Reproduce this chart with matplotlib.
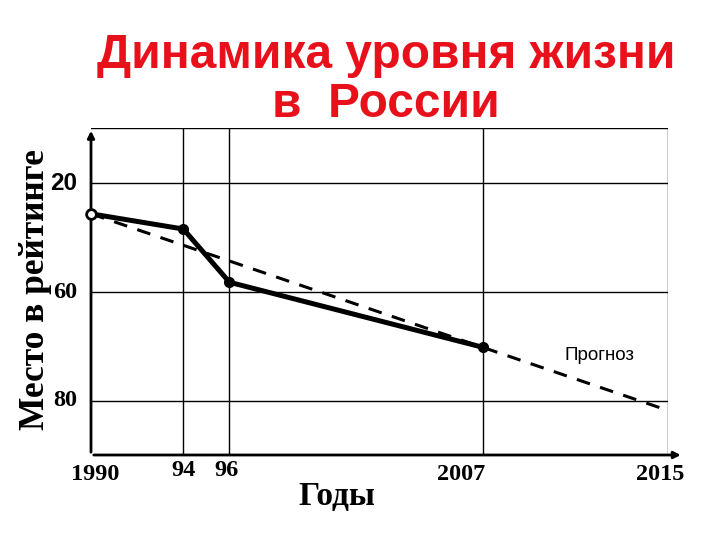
import matplotlib
matplotlib.use('Agg')
import matplotlib.pyplot as plt

# data (y = position on the rank scale, 1 -> "20", 2 -> "60", 3 -> "80")
years = [1990, 1994, 1996, 2007]
rank_pos = [1.28, 1.42, 1.91, 2.51]
trend_years = [1990, 2015]
trend_pos = [1.28, 3.09]

ytick_pos = [1, 2, 3]
ytick_labels = ['20', '60', '80']
xtick_years = [1990, 1994, 1996, 2007, 2015]
xtick_labels = ['1990', '94', '96', '2007', '2015']
vlines = [1994, 1996, 2007, 2015]

serif = 'Liberation Serif'
sans = 'Liberation Sans'

fig = plt.figure(figsize=(7.2, 5.4), dpi=100)
ax = fig.add_axes([91/720, 1-455/540, 577/720, 327/540])
ax.set_xlim(1990, 2015)
ax.set_ylim(3.5, 0.49)

for s in ax.spines.values():
    s.set_visible(False)
ax.set_xticks([])
ax.set_yticks([])

# grid / frame
for y in ytick_pos:
    ax.plot([1990, 2015], [y, y], color='black', lw=1.0)
for x in vlines:
    ax.plot([x, x], [0.49, 3.5], color='black', lw=1.0)
ax.plot([1990, 2015], [0.49, 0.49], color='black', lw=1.0)

# axes with arrows
ax.annotate('', xy=(0, 1.0), xytext=(0, 0), xycoords='axes fraction',
            arrowprops=dict(arrowstyle='-|>', lw=2, color='black', mutation_scale=10))
ax.annotate('', xy=(1.027, 0), xytext=(0, 0), xycoords='axes fraction',
            arrowprops=dict(arrowstyle='-|>', lw=2, color='black', mutation_scale=10))

# forecast and actual line
ax.plot(trend_years, trend_pos, color='black', lw=2.2, ls=(0, (4.5, 3.5)), clip_on=False)
ax.plot(years, rank_pos, color='black', lw=3.6, solid_capstyle='round', zorder=3)
ax.plot(years[1:], rank_pos[1:], 'o', color='black', ms=7, zorder=4)
ax.plot(years[:1], rank_pos[:1], 'o', mfc='white', mec='black', mew=2, ms=7, zorder=4, clip_on=False)

# tick labels
for y, lab in zip(ytick_pos, ytick_labels):
    fam = sans if lab == '20' else serif
    ax.text(-0.024, y, lab, transform=ax.get_yaxis_transform(), ha='right', va='center',
            fontsize=17.5, fontweight='bold', family=fam)
xoffs = [0.2, 0, -0.15, -0.95, -0.35]
yoffs = [3.68, 3.64, 3.64, 3.68, 3.68]
for x, lab, dx, y in zip(xtick_years, xtick_labels, xoffs, yoffs):
    ax.text(x + dx, y, lab, ha='center', va='center', fontsize=17.5, fontweight='bold',
            family=serif, clip_on=False)

ax.text(2000.66, 3.88, 'Годы', ha='center', va='center', fontsize=24, fontweight='bold',
        family=serif, clip_on=False)
ax.text(2012.05, 2.58, 'Прогноз', ha='center', va='center', fontsize=13.5, family=sans)

fig.text(36/720, 1-290/540, 'Место в рейтинге', rotation=90, ha='center', va='center',
         fontsize=25.5, fontweight='bold', family=serif)
fig.text(386/720, 1-80/540, 'Динамика уровня жизни\nв  России', ha='center', va='center',
         fontsize=34.5, fontweight='bold', family=sans, color='#e8101a', linespacing=1.1)

fig.savefig('out.png', dpi=100)
